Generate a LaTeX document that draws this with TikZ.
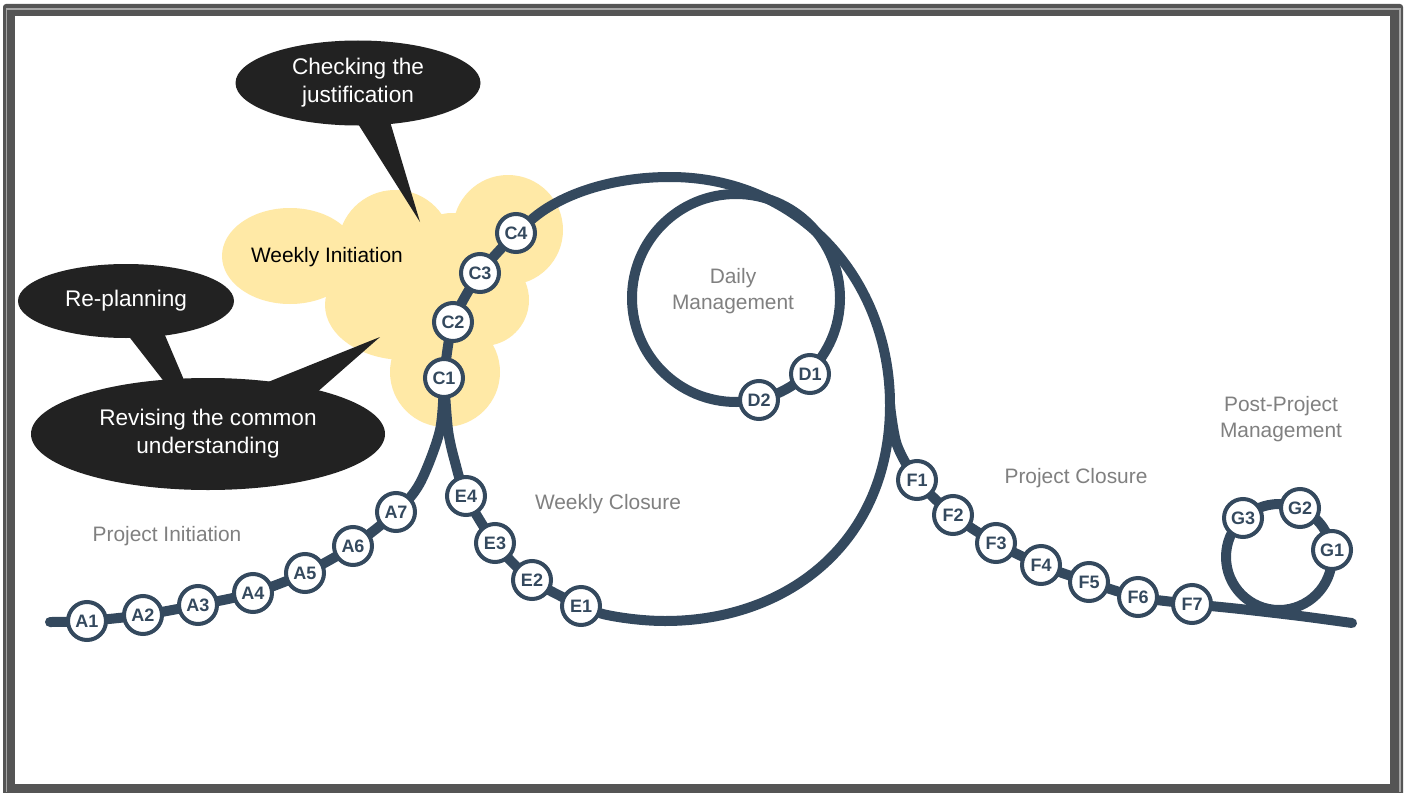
\documentclass[tikz,border=0pt]{standalone}
\usepackage{fontspec}
\setmainfont{Liberation Sans}
\usetikzlibrary{shapes.geometric,calc,backgrounds}

\definecolor{track}{HTML}{34495E}
\definecolor{bubblefill}{HTML}{222222}
\definecolor{cloudfill}{HTML}{FFE9A6}
\definecolor{labelgray}{HTML}{808080}
\definecolor{framegray}{HTML}{555555}

\begin{document}
\begin{tikzpicture}[x=1pt, y=-1pt,
	station/.style={circle, draw=track, line width=4pt, fill=white, minimum size=38pt, inner sep=0pt, text=track, font=\fontsize{18pt}{18pt}\selectfont\bfseries},
	rail/.style={draw=track, line width=10pt, line cap=round},
	bubble/.style={ellipse, fill=bubblefill, text=white, align=center, inner sep=0pt, font=\fontsize{22.6pt}{28pt}\selectfont},
	phase/.style={text=labelgray, align=center, font=\fontsize{20.9pt}{26pt}\selectfont}]
		
		\useasboundingbox (0,0) rectangle (1410,792);
		
		% speech bubbles
		\node[bubble, minimum width=245pt, minimum height=85pt] (check) at (358,83) {Checking the\\justification};
		\coordinate (checktip) at (420,222);
		\fill[bubblefill] ($(check.268)!4pt!(check.center)$) -- (checktip) -- ($(check.310)!4pt!(check.center)$) -- cycle;
		
		\node[bubble, minimum width=216pt, minimum height=74pt] (replan) at (126,301) {Re-planning};
		\node[bubble, minimum width=354pt, minimum height=112pt] (revise) at (208,434) {Revising the common\\understanding};
		\coordinate (revisetip) at (380,337);
		\fill[bubblefill] ($(replan.272)!4pt!(replan.center)$) -- ($(revise.130)!4pt!(revise.center)$) -- ($(revise.114)!4pt!(revise.center)$) -- ($(replan.320)!4pt!(replan.center)$) -- cycle;
		\fill[bubblefill] ($(revise.42)!4pt!(revise.center)$) -- (revisetip) -- ($(revise.21)!4pt!(revise.center)$) -- cycle;
		
		% phase labels
		\node[font=\fontsize{20.9pt}{26pt}\selectfont] (winit) at (327,257) {Weekly Initiation};
		\node[phase] (pinit) at (167,536) {Project Initiation};
		\node[phase] (wclose) at (608,504) {Weekly Closure};
		\node[phase] (daily) at (733,291) {Daily\\Management};
		\node[phase] (pclose) at (1076,478) {Project Closure};
		\node[phase] (post) at (1281,419) {Post-Project\\Management};
		
		% project initiation
		\node[station] (A1) at (87,621) {A1};
		\node[station] (A2) at (143,615) {A2};
		\node[station] (A3) at (198,605) {A3};
		\node[station] (A4) at (253,593) {A4};
		\node[station] (A5) at (305,573) {A5};
		\node[station] (A6) at (353,546) {A6};
		\node[station] (A7) at (396,512) {A7};
		
		% weekly initiation
		\node[station] (C1) at (444,378) {C1};
		\node[station] (C2) at (453,322) {C2};
		\node[station] (C3) at (480,273) {C3};
		\node[station] (C4) at (516,233) {C4};
		
		% daily management
		\node[station] (D1) at (810,374) {D1};
		\node[station] (D2) at (759,400) {D2};
		
		% weekly closure
		\node[station] (E1) at (581,606) {E1};
		\node[station] (E2) at (532,580) {E2};
		\node[station] (E3) at (495,543) {E3};
		\node[station] (E4) at (466,496) {E4};
		
		% project closure
		\node[station] (F1) at (917,480) {F1};
		\node[station] (F2) at (953,515) {F2};
		\node[station] (F3) at (996,543) {F3};
		\node[station] (F4) at (1041,565) {F4};
		\node[station] (F5) at (1089,582) {F5};
		\node[station] (F6) at (1138,597) {F6};
		\node[station] (F7) at (1192,604) {F7};
		
		% post-project management
		\node[station] (G1) at (1332,550) {G1};
		\node[station] (G2) at (1300,508) {G2};
		\node[station] (G3) at (1243,518) {G3};
		
		\coordinate (start) at (50,622);
		\coordinate (top) at (670,177);
		\coordinate (fork) at (890,405);
		\coordinate (bottom) at (665,621);
		\coordinate (finish) at (1352,623);
		
		\begin{pgfonlayer}{background}
			% frame
			\fill[framegray, rounded corners=3pt] (3,4) rectangle (1403,800);
			\draw[gray!70, line width=1.5pt] (6.5,792) -- (6.5,9) -- (1400,9) -- (1400,792);
			\fill[white] (15,16) rectangle (1390,784);
			
			% cloud
			\fill[cloudfill] (290,256) ellipse [x radius=68, y radius=48];
			\fill[cloudfill] (395,247) circle [radius=57];
			\fill[cloudfill] (508,230) circle [radius=55];
			\fill[cloudfill] (452,258) circle [radius=45];
			\fill[cloudfill] (405,305) ellipse [x radius=80, y radius=55];
			\fill[cloudfill] (483,300) circle [radius=46];
			\fill[cloudfill] (445,372) circle [radius=55];
			
			% tracks
			\draw[rail] plot[smooth] coordinates {(start) (A1) (A2) (A3) (A4) (A5) (A6) (A7) (420,483) (440,430) (C1)};
			\draw[rail] plot[smooth] coordinates {(C1) (C2) (C3) (C4)};
			\draw[rail] (C4) .. controls (560,195) and (610,177) .. (top)
				.. controls (800,177) and (890,280) .. (fork)
				.. controls (890,540) and (790,621) .. (bottom)
				.. controls (635,621) and (605,615) .. (E1);
			\draw[rail] plot[smooth] coordinates {(E1) (E2) (E3) (E4) (455,462) (448,430) (C1)};
			\draw[rail] plot[smooth] coordinates {(fork) (897,445) (F1) (F2) (F3) (F4) (F5) (F6) (F7) (1240,609) (1300,616) (finish)};
			\draw[rail] (736,298) circle [radius=104];
			\draw[rail] (1279,557) circle [radius=53];
		\end{pgfonlayer}
		
	\end{tikzpicture}
\end{document}
